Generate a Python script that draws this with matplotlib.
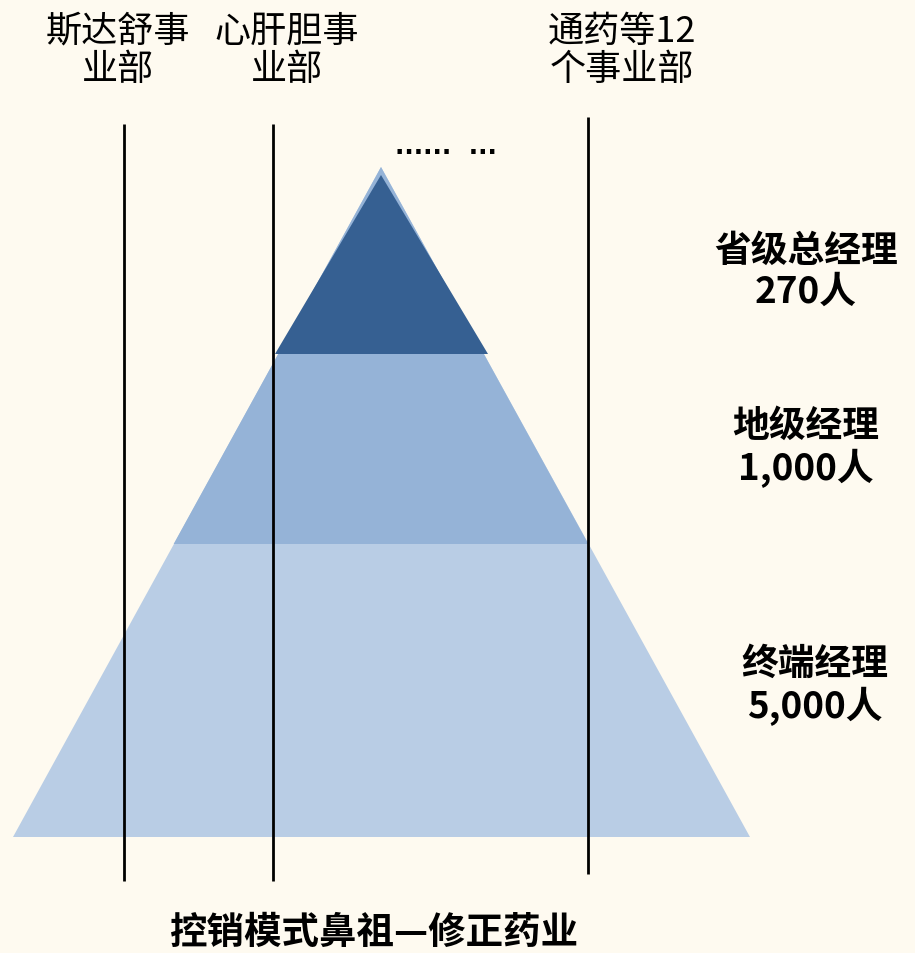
import matplotlib
matplotlib.use("Agg")
import matplotlib.pyplot as plt
from matplotlib.patches import Polygon

plt.rcParams["font.family"] = ["Noto Sans CJK SC", "DejaVu Sans"]

BG = "#FEFAF0"
LIGHT = "#B9CDE5"
MID = "#95B3D7"
DARK = "#366092"

# data
levels = ["省级总经理", "地级经理", "终端经理"]
headcount = ["270人", "1,000人", "5,000人"]
divisions = ["斯达舒事\n业部", "心肝胆事\n业部", "通药等12\n个事业部"]
title = "控销模式鼻祖—修正药业"

# layout (pixel coords, y downward)
apex_x, apex_y = 381, 168
base_y, base_l, base_r = 838, 13, 750
band_y = [355, 545]
dark_tri = [(381, 176), (275, 355), (488, 355)]
div_x = [124, 273, 588]
div_top = [125, 125, 118]
div_bot = [882, 882, 875]
div_label_x = [118, 287, 622]
level_label = [(806, 272), (806, 448), (815, 686)]


def half_width(y):
    return (base_r - base_l) / 2 * (y - apex_y) / (base_y - apex_y)


fig = plt.figure(figsize=(9.15, 9.54), dpi=100)
fig.patch.set_facecolor(BG)
ax = fig.add_axes([0, 0, 1, 1])
ax.set_xlim(0, 915)
ax.set_ylim(954, 0)
ax.axis("off")
ax.set_facecolor(BG)

# whole triangle in light colour
ax.add_patch(Polygon([(apex_x, apex_y), (base_l, base_y), (base_r, base_y)],
                     closed=True, facecolor=LIGHT, edgecolor="none"))
# upper part in mid colour
hw = half_width(band_y[1])
ax.add_patch(Polygon([(apex_x, apex_y), (apex_x - hw, band_y[1]), (apex_x + hw, band_y[1])],
                     closed=True, facecolor=MID, edgecolor="none"))
# top triangle dark
ax.add_patch(Polygon(dark_tri, closed=True, facecolor=DARK, edgecolor="none"))

# division lines
for x, t, b in zip(div_x, div_top, div_bot):
    ax.plot([x, x], [t, b], color="black", lw=2, solid_capstyle="butt")

for x, label in zip(div_label_x, divisions):
    ax.text(x, 51, label, ha="center", va="center", fontsize=26,
            linespacing=1.08, color="black")

ax.text(446, 147, "......  ...", ha="center", va="center", fontsize=18,
        fontweight="bold", color="black", family="DejaVu Sans")

for (x, y), lv, n in zip(level_label, levels, headcount):
    ax.text(x, y, f"{lv}\n{n}", ha="center", va="center", fontsize=26.5,
            fontweight="bold", linespacing=1.15, color="black")

ax.text(375, 932, title, ha="center", va="center", fontsize=27,
        fontweight="bold", color="black")

fig.savefig("out.png", dpi=100, facecolor=BG)
